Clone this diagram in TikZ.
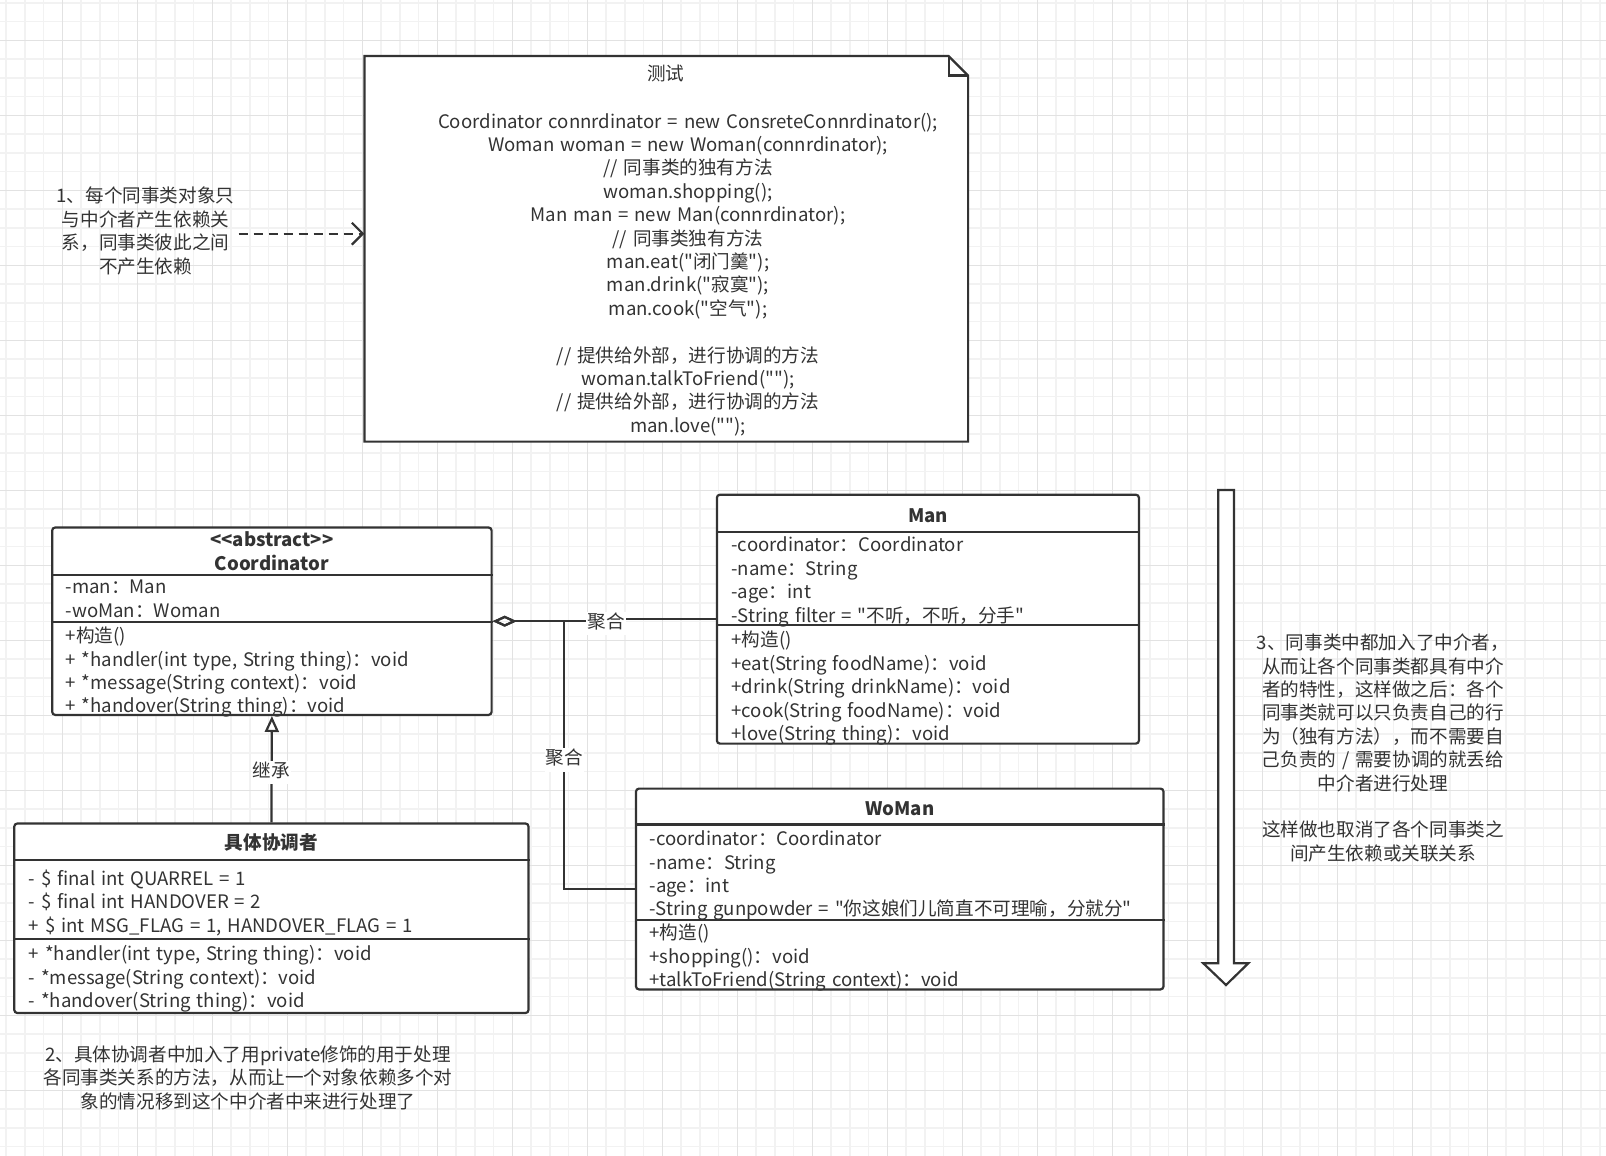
\documentclass[tikz,border=0pt]{standalone}
\usepackage{fontspec}
\setmainfont{Noto Sans CJK SC}[Ligatures=TeXOff, WordSpace=1.4]
\usetikzlibrary{arrows.meta}

\definecolor{ink}{HTML}{333333}
\definecolor{gridminor}{HTML}{F2F2F2}
\definecolor{gridmajor}{HTML}{E2E2E2}
\newcommand{\dfont}{\fontsize{18.6}{23.4}\selectfont\lineskiplimit=-20pt\relax}

\tikzset{
  umlbox/.style={draw=ink, line width=2.2pt, rounded corners=3pt, fill=white},
  txt/.style={font=\dfont, text=ink, inner sep=0pt, execute at begin node=\strut},
  ctitle/.style={txt, font=\dfont\bfseries, align=center, anchor=north},
  members/.style={txt, align=left, anchor=north west},
  memo/.style={txt, align=center, anchor=north},
  lbl/.style={txt, fill=white, inner xsep=1pt},
  divider/.style={draw=ink, line width=2.2pt},
  conn/.style={draw=ink, line width=2.2pt},
}

\begin{document}
\begin{tikzpicture}[x=1pt, y=-1pt]
\useasboundingbox (0,0) rectangle (1606,1156);

% background grid
\foreach \gx in {6,24.75,...,1606} \draw[gridminor, line width=1.5pt] (\gx,0) -- (\gx,1156);
\foreach \gy in {2.8,21.55,...,1156} \draw[gridminor, line width=1.5pt] (0,\gy) -- (1606,\gy);
\foreach \gx in {62.3,137.3,...,1606} \draw[gridmajor, line width=1.5pt] (\gx,0) -- (\gx,1156);
\foreach \gy in {40.3,115.3,...,1156} \draw[gridmajor, line width=1.5pt] (0,\gy) -- (1606,\gy);

% test note
\node[minimum width=603.3pt, minimum height=385.1pt, inner sep=0pt] (note) at (666.25,248.85) {};
\filldraw[fill=white, draw=ink, line width=2.2pt] (note.south west) -- (note.north west)
  -- ([xshift=-19.5pt]note.north east) -- ([yshift=-19.5pt]note.north east) -- (note.south east) -- cycle;
\draw[ink, line width=2.2pt] ([xshift=-19.5pt]note.north east) |- ([yshift=-19.5pt]note.north east);
\node[memo] (notetitle) at (665.7,64.1) {测试};
\node[memo] (notecode) at (688,112.7) {Coordinator connrdinator = new ConsreteConnrdinator();\\
  Woman woman = new Woman(connrdinator);\\
  // 同事类的独有方法\\
  woman.shopping();\\
  Man man = new Man(connrdinator);\\
  // 同事类独有方法\\
  man.eat("闭门羹");\\
  man.drink("寂寞");\\
  man.cook("空气");\\
  \mbox{}\\
  // 提供给外部，进行协调的方法\\
  woman.talkToFriend("");\\
  // 提供给外部，进行协调的方法\\
  man.love("");};

% remark 1
\node[memo] (depnote) at (145.5,187) {1、每个同事类对象只\\与中介者产生依赖关\\系，同事类彼此之间\\不产生依赖};
\draw[conn, dash pattern=on 9pt off 6pt, shorten <=4pt, -{Straight Barb[length=11pt, width=22pt]}] (depnote.east) -- (depnote.east -| note.west);

% abstract coordinator
\node[umlbox, minimum width=439.4pt, minimum height=187.4pt] (coord) at (271.9,621.2) {};
\draw[divider] (coord.west |- 0,574.6) -- (coord.east |- 0,574.6);
\draw[divider] (coord.west |- 0,621.7) -- (coord.east |- 0,621.7);
\node[ctitle] (coordname) at (271.9,531.6) {<<abstract>>\\Coordinator};
\node[members] (coordattr) at (65.5,579.8) {-man：Man\\-woMan：Woman};
\node[members] (coordops) at (65.5,626.9) {+构造()\\+ *handler(int type, String thing)：void\\+ *message(String context)：void\\+ *handover(String thing)：void};

% Man
\node[umlbox, minimum width=422pt, minimum height=248.9pt] (man) at (927.9,619.15) {};
\draw[divider] (man.west |- 0,531.6) -- (man.east |- 0,531.6);
\draw[divider] (man.west |- 0,624.8) -- (man.east |- 0,624.8);
\node[ctitle] (manname) at (927.9,506) {Man};
\node[members] (manattr) at (731.3,536.8) {-coordinator：Coordinator\\-name：String\\-age：int\\-String filter = "不听，不听，分手"};
\node[members] (manops) at (731.3,631) {+构造()\\+eat(String foodName)：void\\+drink(String drinkName)：void\\+cook(String foodName)：void\\+love(String thing)：void};

% WoMan
\node[umlbox, minimum width=527.5pt, minimum height=200.8pt] (woman) at (899.75,889) {};
\draw[divider] (woman.west |- 0,824.5) -- (woman.east |- 0,824.5);
\draw[divider] (woman.west |- 0,919.7) -- (woman.east |- 0,919.7);
\node[ctitle] (womanname) at (899.75,799) {WoMan};
\node[members] (womanattr) at (649.4,830.7) {-coordinator：Coordinator\\-name：String\\-age：int\\-String gunpowder = "你这娘们儿简直不可理喻，分就分"};
\node[members] (womanops) at (649.4,923.9) {+构造()\\+shopping()：void\\+talkToFriend(String context)：void};

% concrete coordinator
\node[umlbox, minimum width=514.2pt, minimum height=189.5pt] (concrete) at (271.4,918.25) {};
\draw[divider] (concrete.west |- 0,860.3) -- (concrete.east |- 0,860.3);
\draw[divider] (concrete.west |- 0,939.2) -- (concrete.east |- 0,939.2);
\node[ctitle] (concretename) at (271.4,833.3) {具体协调者};
\node[members] (concreteattr) at (28.7,869.6) {- \$ final int QUARREL = 1\\- \$ final int HANDOVER = 2\\+ \$ int MSG\_FLAG = 1, HANDOVER\_FLAG = 1};
\node[members] (concreteops) at (28.7,945.4) {+ *handler(int type, String thing)：void\\- *message(String context)：void\\- *handover(String thing)：void};

% relations
\coordinate (aggjoint) at (564.3,621.2);
\coordinate (aggjog) at (606,620);
\draw[conn, -{Diamond[open, length=24pt, width=11pt]}] (woman.west) -| (aggjoint) -- (coord.east);
\draw[conn, -{Diamond[open, length=24pt, width=11pt]}] (man.west) -| (aggjog) |- (coord.east);
\node[lbl] (agglbl1) at (606,623.4) {聚合};
\node[lbl] (agglbl2) at (564.3,760.1) {聚合};
\draw[conn, -{Triangle[open, length=16pt, width=14pt]}] (concrete.north) -- (coord.south);
\node[lbl] (inhlbl) at (271.4,772.6) {继承};

% flow arrow
\filldraw[fill=white, draw=ink, line width=2.2pt] (1218.3,490) -- (1234,490) -- (1234,963.3) -- (1248.3,963.3)
  -- (1226,985) -- (1203.3,963.3) -- (1218.3,963.3) -- cycle;

% remarks 2 and 3
\node[memo] (sumnote) at (1383,633.7) {3、同事类中都加入了中介者，\\从而让各个同事类都具有中介\\者的特性，这样做之后：各个\\同事类就可以只负责自己的行\\为（独有方法），而不需要自\\己负责的 / 需要协调的就丢给\\中介者进行处理\\\mbox{}\\这样做也取消了各个同事类之\\间产生依赖或关联关系};
\node[memo] (privnote) at (248,1045.3) {2、具体协调者中加入了用private修饰的用于处理\\各同事类关系的方法，从而让一个对象依赖多个对\\象的情况移到这个中介者中来进行处理了};
\end{tikzpicture}
\end{document}
